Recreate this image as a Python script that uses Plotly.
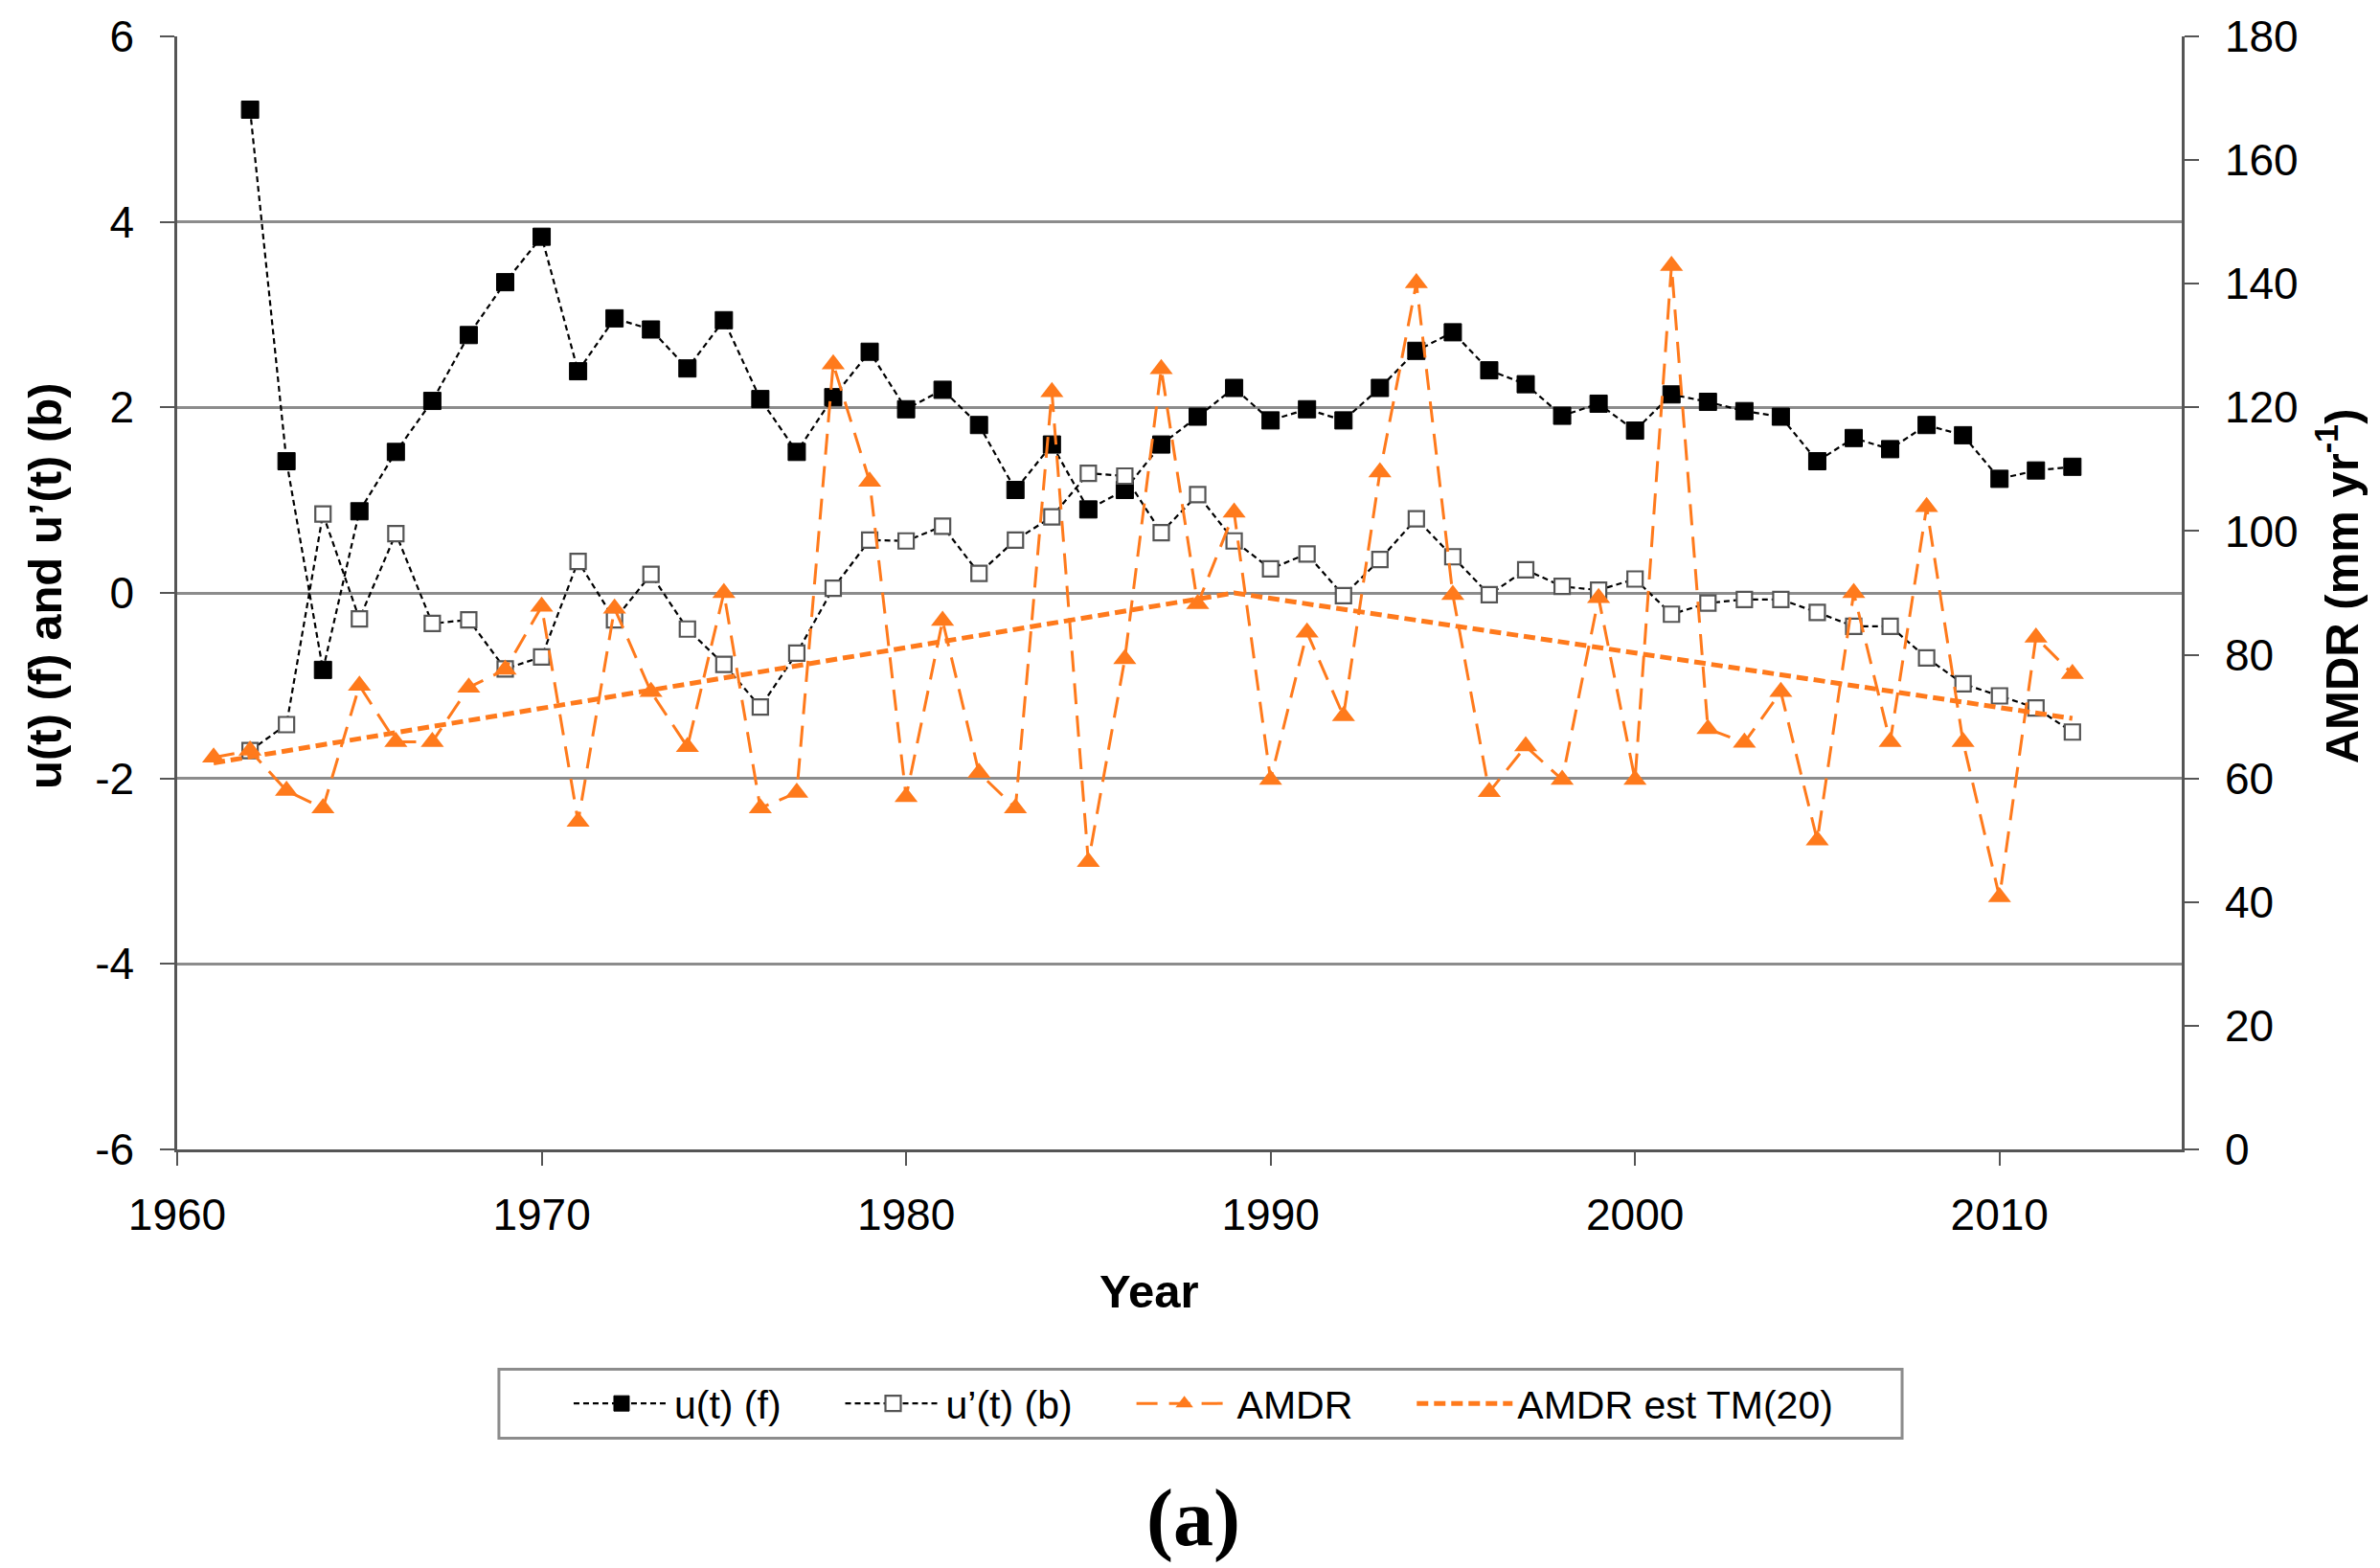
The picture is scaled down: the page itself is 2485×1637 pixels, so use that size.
import plotly.graph_objects as go

years_u = list(range(1962, 2013))
u_forward = [5.21, 1.42, -0.83, 0.88, 1.52, 2.07, 2.78, 3.35, 3.84, 2.39,
             2.96, 2.84, 2.42, 2.94, 2.09, 1.52, 2.11, 2.60, 1.98, 2.19,
             1.81, 1.11, 1.60, 0.90, 1.11, 1.60, 1.90, 2.21, 1.86, 1.98,
             1.86, 2.21, 2.61, 2.81, 2.40, 2.25, 1.91, 2.04, 1.75, 2.14,
             2.06, 1.96, 1.90, 1.42, 1.67, 1.55, 1.81, 1.70, 1.23, 1.32, 1.36]
u_backward = [-1.70, -1.42, 0.85, -0.28, 0.64, -0.33, -0.29, -0.82, -0.69, 0.34,
              -0.29, 0.20, -0.39, -0.77, -1.23, -0.65, 0.05, 0.57, 0.56, 0.72,
              0.21, 0.57, 0.82, 1.29, 1.26, 0.65, 1.06, 0.56, 0.26, 0.42,
              -0.03, 0.36, 0.80, 0.39, -0.02, 0.25, 0.07, 0.03, 0.15, -0.23,
              -0.11, -0.07, -0.07, -0.21, -0.36, -0.36, -0.70, -0.98, -1.11, -1.24, -1.50]

years_amdr = list(range(1961, 2013))
amdr = [63.4, 64.5, 58.0, 55.2, 75.0, 65.9, 65.9, 74.7, 77.6, 87.8,
        53.0, 87.5, 74.0, 65.1, 90.0, 55.2, 57.7, 127.0, 108.0, 57.0,
        85.5, 60.9, 55.2, 122.5, 46.5, 79.3, 126.2, 88.2, 103.0, 59.8,
        83.6, 70.1, 109.5, 140.1, 89.7, 57.8, 65.2, 59.8, 89.2, 59.8,
        142.9, 68.0, 65.8, 74.0, 50.0, 90.0, 65.9, 103.9, 65.9, 40.8,
        82.8, 76.9]

years_trend = [1961, 1989, 2012]
amdr_trend = [62.5, 90.0, 69.7]

x_ticks = [1960, 1970, 1980, 1990, 2000, 2010]
y_left_ticks = [-6, -4, -2, 0, 2, 4, 6]
y_right_ticks = [0, 20, 40, 60, 80, 100, 120, 140, 160, 180]

series_names = ["u(t) (f)", "u\u2019(t) (b)", "AMDR", "AMDR est TM(20)"]

ORANGE = "#FF7A1C"
FONT = "Liberation Sans, Arial, sans-serif"
PAD = "\u00a0" * 5

fig = go.Figure()

fig.add_trace(go.Scatter(
    x=years_u, y=u_forward, name=series_names[0] + PAD, mode="lines+markers",
    line=dict(color="#000000", width=2.2, dash="6px,4px"),
    marker=dict(symbol="square", size=18, color="#000000",
                line=dict(color="#000000", width=1)),
    yaxis="y"))

fig.add_trace(go.Scatter(
    x=years_u, y=u_backward, name=series_names[1] + PAD, mode="lines+markers",
    line=dict(color="#000000", width=2.2, dash="6px,4px"),
    marker=dict(symbol="square", size=16, color="#FFFFFF",
                line=dict(color="#555555", width=2.2)),
    yaxis="y"))

fig.add_trace(go.Scatter(
    x=years_amdr, y=amdr, name=series_names[2] + PAD, mode="lines+markers",
    line=dict(color=ORANGE, width=3, dash="22px,12px"),
    marker=dict(symbol="triangle-up", size=21, color=ORANGE,
                line=dict(color=ORANGE, width=0)),
    yaxis="y2"))

fig.add_trace(go.Scatter(
    x=years_trend, y=amdr_trend, name=series_names[3], mode="lines",
    line=dict(color=ORANGE, width=5, dash="12px,6px"),
    yaxis="y2"))

axis_font = dict(family=FONT, size=46, color="#000000")
title_font = dict(family=FONT, size=49, color="#000000")

fig.update_layout(
    width=2485, height=1637,
    margin=dict(l=185, r=207, t=36, b=437),
    paper_bgcolor="white", plot_bgcolor="white",
    font=dict(family=FONT, size=41, color="#000000"),
    showlegend=True,
    xaxis=dict(
        range=[1960, 2015], tickvals=x_ticks, ticktext=[str(v) for v in x_ticks],
        showgrid=False, zeroline=False,
        showline=True, linecolor="#555555", linewidth=2.5,
        ticks="outside", ticklen=14, tickwidth=2, tickcolor="#555555",
        ticklabelstandoff=12, tickfont=axis_font),
    yaxis=dict(
        range=[-6, 6], tickvals=y_left_ticks, ticktext=[str(v) for v in y_left_ticks],
        showgrid=True, gridcolor="#8C8C8C", gridwidth=2.5,
        zeroline=False,
        showline=True, linecolor="#555555", linewidth=2.5,
        ticks="outside", ticklen=15, tickwidth=2, tickcolor="#555555",
        ticklabelstandoff=18, tickfont=axis_font),
    yaxis2=dict(
        range=[0, 180], tickvals=y_right_ticks, ticktext=[str(v) for v in y_right_ticks],
        overlaying="y", side="right", showgrid=False, zeroline=False,
        showline=True, linecolor="#555555", linewidth=2.5,
        ticks="outside", ticklen=15, tickwidth=2, tickcolor="#555555",
        ticklabelstandoff=18, tickfont=axis_font),
    legend=dict(
        orientation="h", x=0.1954, y=-0.2285, xanchor="left", yanchor="middle",
        borderwidth=0, bgcolor="rgba(0,0,0,0)",
        font=dict(family=FONT, size=41, color="#000000"),
        itemwidth=100, traceorder="normal"),
    shapes=[
        dict(type="rect", xref="paper", yref="paper",
             x0=0.1605, x1=0.8605, y0=-0.2595, y1=-0.1976,
             line=dict(color="#8C8C8C", width=3), fillcolor="rgba(0,0,0,0)"),
    ],
    annotations=[
        dict(text="<b>Year</b>", x=0.485, y=-0.127, xref="paper", yref="paper",
             showarrow=False, xanchor="center", yanchor="middle", font=title_font),
        dict(text="<b>u(t) (f) and u\u2019(t) (b)</b>", x=-0.066, y=0.506,
             xref="paper", yref="paper", showarrow=False, textangle=-90,
             xanchor="center", yanchor="middle", font=title_font),
        dict(text="<b>AMDR (mm yr<sup>-1</sup>)</b>", x=1.078, y=0.506,
             xref="paper", yref="paper", showarrow=False, textangle=-90,
             xanchor="center", yanchor="middle", font=title_font),
        dict(text="<b>(a)</b>", x=0.507, y=-0.331, xref="paper", yref="paper",
             showarrow=False, xanchor="center", yanchor="middle",
             font=dict(family="Liberation Serif, Times New Roman, serif", size=84,
                       color="#000000")),
    ],
)

fig.write_html("out.html", config={"displayModeBar": False},
               post_script="document.body.style.margin='0';")
